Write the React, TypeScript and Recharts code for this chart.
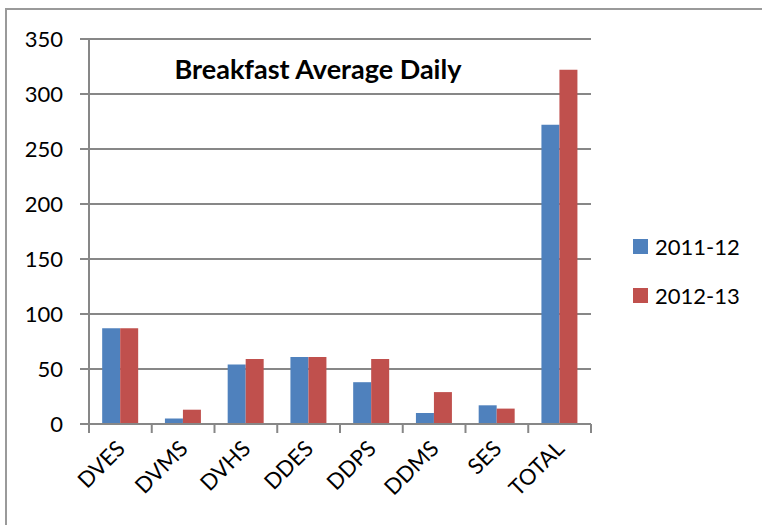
import React from "react";
import { BarChart, Bar, XAxis, YAxis, CartesianGrid, Legend } from "recharts";

const categories = ["DVES", "DVMS", "DVHS", "DDES", "DDPS", "DDMS", "SES", "TOTAL"];
const series2011 = [87, 5, 54, 61, 38, 10, 17, 272];
const series2012 = [87, 13, 59, 61, 59, 29, 14, 322];
const yTicks = [0, 50, 100, 150, 200, 250, 300, 350];
const seriesNames = ["2011-12", "2012-13"];
const title = "Breakfast Average Daily";

const data = categories.map((c, i) => ({ name: c, a: series2011[i], b: series2012[i] }));

const FONT = "Lato, 'Open Sans', sans-serif";
const GRID = "#878787";

const XTick = (props: any) => {
  const { x, y, payload, index } = props;
  const off = payload && payload.offset ? payload.offset : 0;
  const isLast = index === categories.length - 1;
  const px = x + 6;
  const py = y + 26;
  return (
    <g>
      <line x1={x - off} y1={y} x2={x - off} y2={y + 9} stroke={GRID} strokeWidth={2} />
      {isLast && <line x1={x + off} y1={y} x2={x + off} y2={y + 9} stroke={GRID} strokeWidth={2} />}
      <text
        x={px}
        y={py}
        textAnchor="end"
        transform={`rotate(-45, ${px}, ${py})`}
        fontSize={22}
        fontFamily={FONT}
        fill="#000"
      >
        {payload.value}
      </text>
    </g>
  );
};

const LegendContent = (props: any) => {
  const payload = props.payload || [];
  return (
    <div style={{ fontFamily: FONT, fontSize: 22, color: "#000" }}>
      {payload.map((p: any, i: number) => (
        <div key={i} style={{ display: "flex", alignItems: "center", height: 49 }}>
          <div style={{ width: 15, height: 15, background: p.color, marginRight: 7 }} />
          <span>{p.value}</span>
        </div>
      ))}
    </div>
  );
};

export default function App() {
  return (
    <div style={{ position: "absolute", left: 0, top: 0, width: 762, height: 525, overflow: "hidden", background: "#fff" }}>
      <div style={{ position: "absolute", left: 5, top: 8, width: 800, height: 600, border: "2px solid #9a9a9a", boxSizing: "border-box" }} />
      <BarChart
        width={762}
        height={525}
        data={data}
        margin={{ top: 39, right: 41, bottom: 0, left: 0 }}
        barCategoryGap="21%"
        barGap={0}
        style={{ position: "absolute", left: 0, top: 0 }}
      >
        <CartesianGrid vertical={false} stroke={GRID} strokeWidth={2} />
        <XAxis
          dataKey="name"
          tickLine={false}
          tickSize={0}
          tickMargin={0}
          axisLine={{ stroke: GRID, strokeWidth: 2 }}
          tick={<XTick />}
          interval={0}
          height={101}
        />
        <YAxis
          domain={[0, 350]}
          ticks={yTicks}
          width={89}
          tickSize={9}
          tickMargin={17}
          tickLine={{ stroke: GRID, strokeWidth: 2 }}
          axisLine={{ stroke: GRID, strokeWidth: 2 }}
          tick={{ fontSize: 22, fontFamily: FONT, fill: "#000" }}
          interval={0}
        />
        <Legend
          layout="vertical"
          verticalAlign="middle"
          align="right"
          content={<LegendContent />}
          wrapperStyle={{ left: 633, top: 222, width: 130 }}
        />
        <Bar dataKey="a" name={seriesNames[0]} fill="#4F81BD" isAnimationActive={false} />
        <Bar dataKey="b" name={seriesNames[1]} fill="#C0504D" isAnimationActive={false} />
      </BarChart>
      <div
        style={{
          position: "absolute",
          left: 118,
          width: 400,
          top: 53,
          textAlign: "center",
          fontFamily: FONT,
          fontWeight: 700,
          fontSize: 27,
          lineHeight: "32px",
          color: "#000",
        }}
      >
        {title}
      </div>
    </div>
  );
}
